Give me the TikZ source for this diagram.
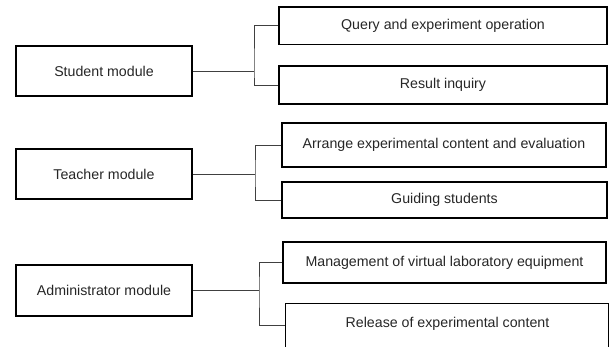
\documentclass[tikz,border=0pt]{standalone}
\usepackage{fontspec}
\setmainfont{Liberation Sans}
\begin{document}
\begin{tikzpicture}[x=1pt,y=-1pt,
  lbl/.style={font=\fontsize{14.2}{17}\selectfont,text=black!85},
  box/.style={lbl,draw=black,line width=1.2pt,inner sep=0pt},
  conn/.style={draw=black!75,line width=0.9pt}]
\useasboundingbox (0,0) rectangle (613,347);
% left modules
\node[box,minimum width=176,minimum height=50] (s) at (104,71) {Student module};
\node[box,minimum width=176,minimum height=50] (t) at (104,174) {Teacher module};
\node[box,minimum width=176,minimum height=51] (a) at (104,290.5) {Administrator module};
% right items
\node[box,minimum width=328,minimum height=37.5] (q) at (443,25.75) {Query and experiment operation};
\node[box,minimum width=328,minimum height=38] (r) at (443,85) {Result inquiry};
\node[box,minimum width=324,minimum height=44] (ar) at (444,145) {Arrange experimental content and evaluation};
\node[box,minimum width=325,minimum height=36] (g) at (444.5,200) {Guiding students};
\node[box,minimum width=323,minimum height=47,anchor=north west] (rl) at (285,303) {};
\node[lbl] (rlt) at (447.5,324) {Release of experimental content};
\node[box,minimum width=323,minimum height=41] (m) at (444.5,262.5) {Management of virtual laboratory equipment};
% junctions
\coordinate (j1) at (254,71);
\coordinate (j2) at (255,174);
\coordinate (j3) at (259,290.5);
\draw[conn] (s.east) -- (j1);
\draw[conn] (q.west) -| (j1) |- (r.west);
\draw[conn] (t.east) -- (j2);
\draw[conn] (ar.west) -| (j2) |- (g.west);
\draw[conn] (a.east) -- (j3);
\draw[conn] (m.west) -| (j3) |- ([yshift=1.5pt]rl.west);
\end{tikzpicture}
\end{document}
